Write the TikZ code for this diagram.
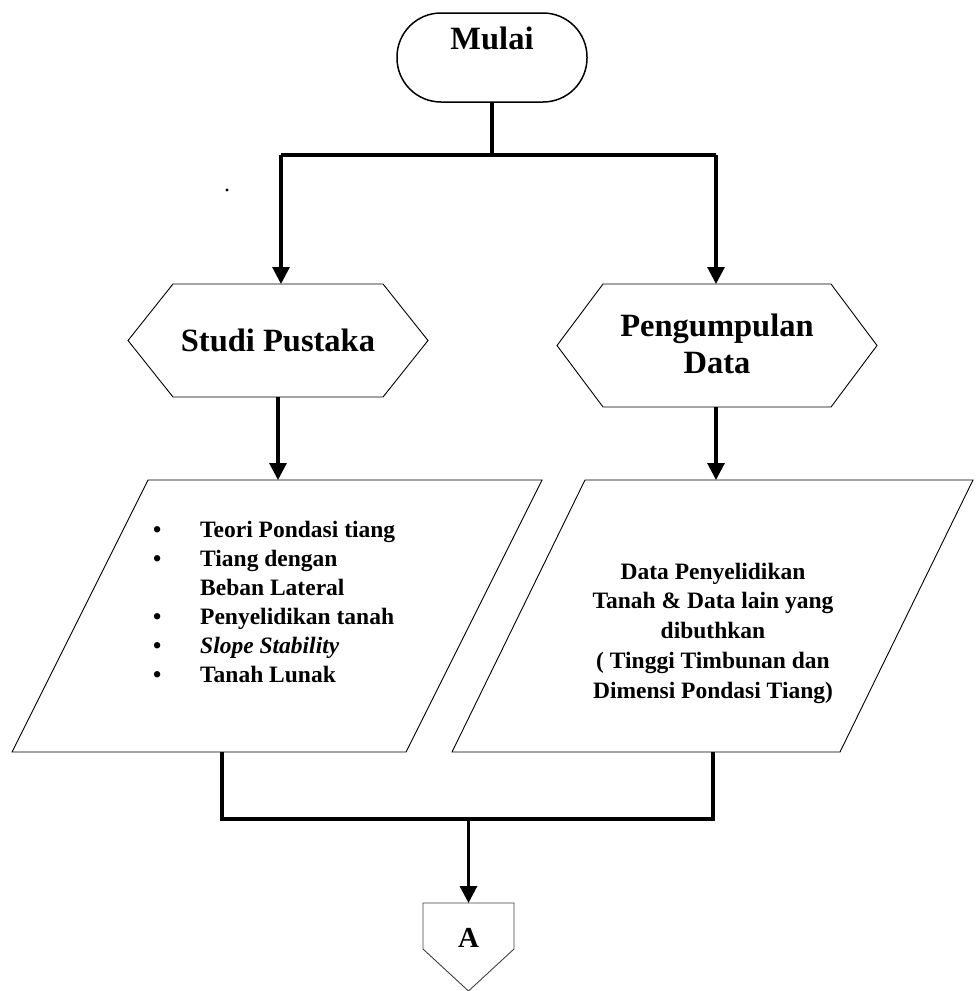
\documentclass[tikz,border=0pt]{standalone}
\usepackage{fontspec}
\setmainfont{Liberation Serif}
\usetikzlibrary{arrows.meta}
\begin{document}
\begin{tikzpicture}[x=1pt,y=-1pt,
  conn/.style={line width=3.1pt},
  arr/.style={conn,-{Triangle[width=17pt,length=17pt]}},
  outline/.style={line width=0.9pt},
  box/.style={draw=none, inner sep=0pt, outer sep=0pt},
  big/.style={font=\fontsize{32.5}{37}\selectfont\bfseries, align=center},
  listtext/.style={font=\fontsize{23.5}{29}\selectfont\bfseries},
  datatext/.style={font=\fontsize{23.5}{29.75}\selectfont\bfseries, align=center}]
\useasboundingbox (0,0) rectangle (975,991);

% start terminal
\node[draw, line width=1.5pt, rounded corners=44pt, minimum width=190pt, minimum height=89pt, inner sep=0pt] (start) at (492,57.5) {};
\node[big] (startlbl) at (492,38) {Mulai};

% hexagons
\node[box, big, minimum width=300pt, minimum height=113pt] (sp) at (278,340.5) {Studi Pustaka};
\draw[outline] (sp.west) -- ([xshift=45pt]sp.north west) -- ([xshift=-45pt]sp.north east) -- (sp.east)
  -- ([xshift=-45pt]sp.south east) -- ([xshift=45pt]sp.south west) -- cycle;
\node[box, minimum width=320pt, minimum height=123pt] (pd) at (717,345.5) {};
\node[big] (pdlbl) at (717,344) {Pengumpulan\\Data};
\draw[outline] (pd.west) -- ([xshift=46pt]pd.north west) -- ([xshift=-46pt]pd.north east) -- (pd.east)
  -- ([xshift=-46pt]pd.south east) -- ([xshift=46pt]pd.south west) -- cycle;

% parallelograms
\node[box, minimum width=530pt, minimum height=272pt] (pl) at (277,616) {};
\draw[outline] ([xshift=136pt]pl.north west) -- (pl.north east) -- ([xshift=-136pt]pl.south east) -- (pl.south west) -- cycle;
\node[listtext, anchor=north west, inner sep=0pt] (pltext) at (153,517)
  {\begin{tabular}{@{}p{47pt}@{}l@{}}
   \textbullet & Teori Pondasi tiang\\
   \textbullet & Tiang dengan\\
               & Beban Lateral\\
   \textbullet & Penyelidikan tanah\\
   \textbullet & \textit{Slope Stability}\\
   \textbullet & Tanah Lunak
   \end{tabular}};

\node[box, minimum width=521pt, minimum height=272pt] (pr) at (712.5,616) {};
\draw[outline] ([xshift=133pt]pr.north west) -- (pr.north east) -- ([xshift=-133pt]pr.south east) -- (pr.south west) -- cycle;
\node[datatext] (prtext) at (713,633)
  {Data Penyelidikan\\Tanah \& Data lain yang\\dibuthkan\\( Tinggi Timbunan dan\\Dimensi Pondasi Tiang)};

% off-page connector
\node[box, minimum width=91pt, minimum height=88pt] (A) at (468.5,947) {};
\draw[line width=0.9pt, draw=black!75] (A.north west) -- (A.north east) -- ([yshift=42pt]A.south east) -- (A.south) -- ([yshift=42pt]A.south west) -- cycle;
\node[font=\fontsize{29}{34}\selectfont\bfseries] (Albl) at (468.5,938) {A};

% stray dot
\fill (227,190) circle (1.6pt);

% connectors
\coordinate (jl) at (281,155);
\coordinate (jr) at (716,155);
\draw[conn] (start.south) -- (start.south |- jl);
\draw[conn] (jl) -- (jr);
\draw[arr] (jl) -- (jl |- sp.north);
\draw[arr] (jr) -- (jr |- pd.north);
\draw[arr] (sp.south) -- (sp.south |- pl.north);
\draw[arr] (jr |- pd.south) -- (jr |- pr.north);

\coordinate (bl) at (222,819);
\coordinate (br) at (713,819);
\coordinate (bm) at (468.5,819);
\draw[conn] (bl |- pl.south) -- (bl) -- (br) -- (br |- pr.south);
\draw[arr] (bm) -- (A.north);
\end{tikzpicture}
\end{document}
